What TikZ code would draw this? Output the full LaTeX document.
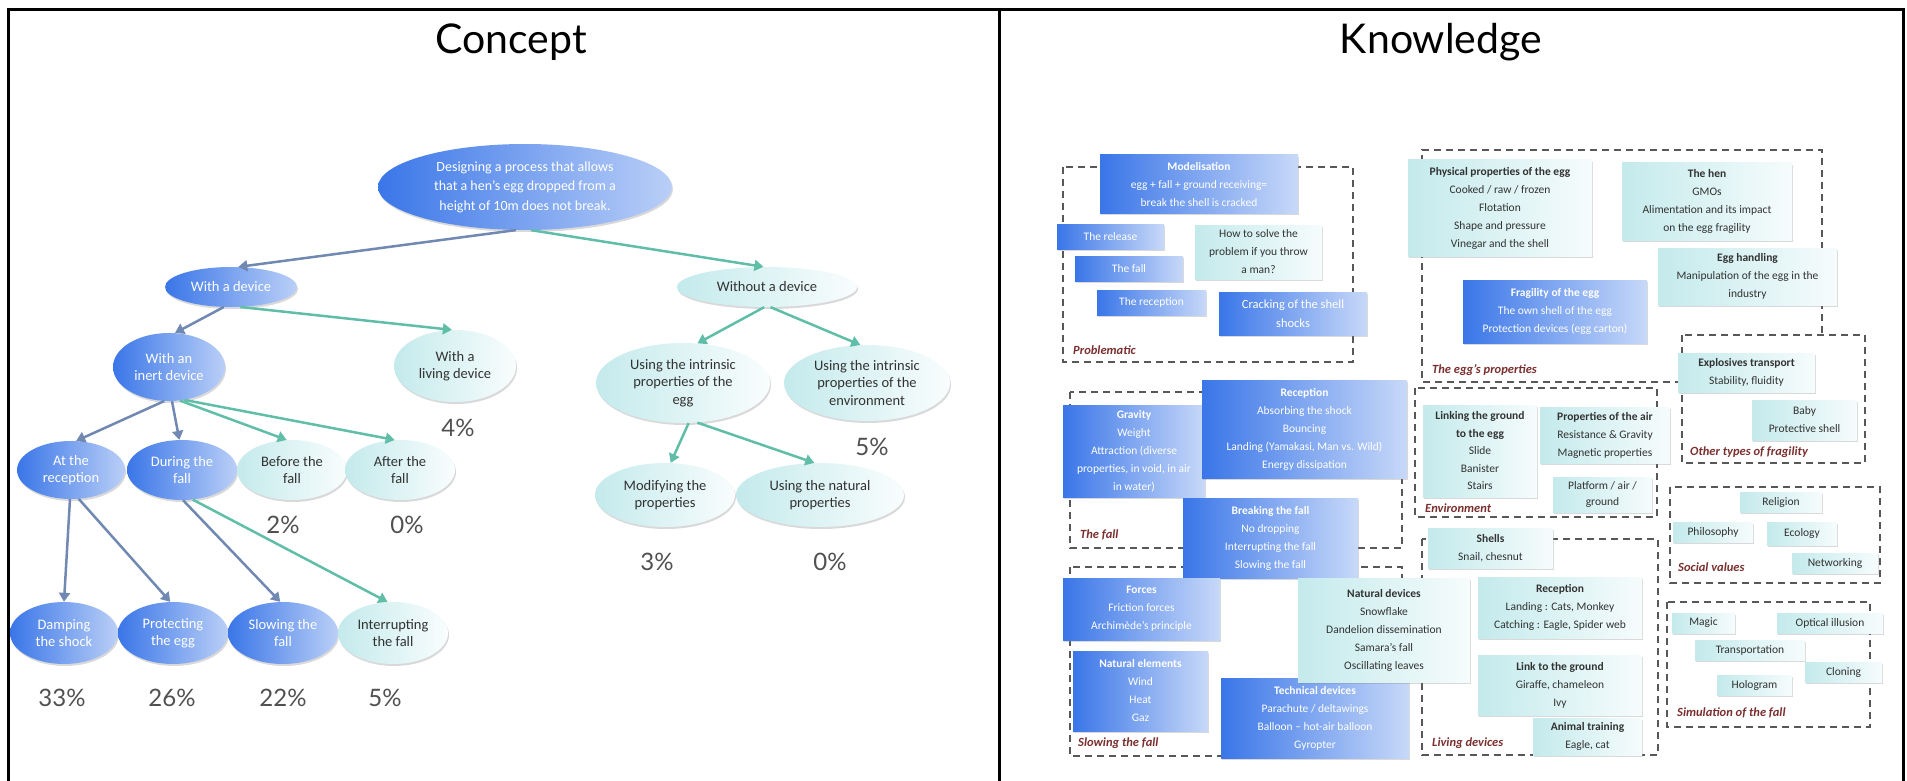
\documentclass[tikz,border=0pt]{standalone}
\usepackage{fontspec}
\setmainfont{Carlito}
\newfontfamily\titlefont{Lato}
\usetikzlibrary{shapes.geometric,arrows.meta,shadows}

\definecolor{nodeblue}{RGB}{58,118,232}
\definecolor{nodecyan}{RGB}{196,234,236}
\definecolor{edgeblue}{RGB}{112,136,178}
\definecolor{edgeteal}{RGB}{96,190,168}
\definecolor{labelred}{RGB}{122,46,46}
\definecolor{dashgray}{RGB}{88,88,88}
\definecolor{pctgray}{RGB}{80,80,80}
\definecolor{darktext}{RGB}{50,50,50}

\begin{document}
\begin{tikzpicture}[x=1pt,y=-1pt,
	sz/.style 2 args={minimum width=#1,minimum height=#2},
	softshadow/.style={drop shadow={shadow xshift=1pt,shadow yshift=-2pt,opacity=.3}},
	bluebox/.style={rectangle,inner sep=0pt,left color=nodeblue,right color=nodeblue!28!white,text=white,align=center,font=\fontsize{11.5}{18}\selectfont,softshadow},
	cyanbox/.style={rectangle,inner sep=0pt,left color=nodecyan,right color=nodecyan!15!white,text=darktext,align=center,font=\fontsize{11.5}{18}\selectfont,softshadow},
	blueoval/.style={ellipse,inner sep=0pt,left color=nodeblue,right color=nodeblue!35!white,text=white,align=center,font=\fontsize{14.5}{17.5}\selectfont,softshadow},
	cyanoval/.style={ellipse,inner sep=0pt,left color=nodecyan,right color=nodecyan!10!white,text=darktext,align=center,font=\fontsize{14.5}{17.5}\selectfont,softshadow},
	group/.style={draw=dashgray,line width=2.2pt,dash pattern=on 7pt off 5pt},
	grouplabel/.style={anchor=west,inner sep=0pt,text=labelred,font=\fontsize{12.5}{14}\selectfont\bfseries\itshape},
	pct/.style={inner sep=0pt,text=pctgray,font=\titlefont\fontsize{24}{26}\selectfont},
	titletext/.style={inner sep=0pt,font=\titlefont\fontsize{41}{44}\selectfont},
	toblue/.style={draw=edgeblue,line width=2.5pt,-{Triangle[length=9pt,width=11pt]}},
	toteal/.style={draw=edgeteal,line width=2.5pt,-{Triangle[length=9pt,width=11pt]}}]
	\useasboundingbox (0,0) rectangle (1907,781);

	% frame and titles
	\draw[line width=3pt] (8,781) -- (8,10) -- (1903,10) -- (1903,781);
	\draw[line width=3pt] (999,10) -- (999,781);
	\path (511,42)  node[titletext] (concepttitle) {Concept};
	\path (1441,42) node[titletext] (knowtitle)    {Knowledge};

	% concept tree
	\path (525,187) node[blueoval,sz={294}{86},font=\fontsize{14}{19.5}\selectfont] (root) {Designing a process that allows\\that a hen's egg dropped from a\\height of 10m does not break.};
	\path (231,287) node[blueoval,sz={132}{40}]  (wad)       {With a device};
	\path (767,287) node[cyanoval,sz={180}{40}]  (without)   {Without a device};
	\path (169,367) node[blueoval,sz={112}{68}]  (inert)     {With an\\inert device};
	\path (455,366) node[cyanoval,sz={122}{72}]  (living)    {With a\\living device};
	\path (683,383) node[cyanoval,sz={174}{80}]  (intregg)   {Using the intrinsic\\properties of the\\egg};
	\path (867,383) node[cyanoval,sz={166}{76}]  (intrenv)   {Using the intrinsic\\properties of the\\environment};
	\path (665,495) node[cyanoval,sz={140}{64}]  (modif)     {Modifying the\\properties};
	\path (820,495) node[cyanoval,sz={168}{64}]  (natprop)   {Using the natural\\properties};
	\path (71,470)  node[blueoval,sz={108}{58}]  (atrec)     {At the\\reception};
	\path (182,470) node[blueoval,sz={110}{60}]  (during)    {During the\\fall};
	\path (292,470) node[cyanoval,sz={110}{60}]  (before)    {Before the\\fall};
	\path (400,470) node[cyanoval,sz={110}{60}]  (after)     {After the\\fall};
	\path (64,633)  node[blueoval,sz={108}{62}]  (damping)   {Damping\\the shock};
	\path (173,633) node[blueoval,sz={110}{62}]  (protect)   {Protecting\\the egg};
	\path (283,633) node[blueoval,sz={110}{62}]  (slowing)   {Slowing the\\fall};
	\path (393,633) node[cyanoval,sz={110}{62}]  (interrupt) {Interrupting\\the fall};

	\draw[toblue]  (root.258)    -- (wad.70);
	\draw[toteal]  (root.278)    -- (without.100);
	\draw[toblue]  (wad.250)     -- (inert.80);
	\draw[toteal]  (wad.295)     -- (living.95);
	\draw[toblue]  (inert.262)   -- (atrec.80);
	\draw[toblue]  (inert.275)   -- (during.95);
	\draw[toteal]  (inert.288)   -- (before.100);
	\draw[toteal]  (inert.295)   -- (after.100);
	\draw[toblue]  (atrec.268)   -- (damping.90);
	\draw[toblue]  (atrec.285)   -- (protect.95);
	\draw[toblue]  (during.272)  -- (slowing.95);
	\draw[toteal]  (during.290)  -- (interrupt.100);
	\draw[toteal]  (without.262) -- (intregg.70);
	\draw[toteal]  (without.280) -- (intrenv.100);
	\draw[toteal]  (intregg.278) -- (modif.80);
	\draw[toteal]  (intregg.290) -- (natprop.100);

	\path (458,428) node[pct] (p4)  {4\%};
	\path (872,447) node[pct] (p5)  {5\%};
	\path (657,562) node[pct] (p3)  {3\%};
	\path (830,562) node[pct] (p0a) {0\%};
	\path (283,525) node[pct] (p2)  {2\%};
	\path (407,525) node[pct] (p0b) {0\%};
	\path (62,698)  node[pct] (p33) {33\%};
	\path (172,698) node[pct] (p26) {26\%};
	\path (283,698) node[pct] (p22) {22\%};
	\path (385,698) node[pct] (p5b) {5\%};

	% knowledge groups
	\draw[group] (1063,167) rectangle (1353,362);
	\draw[group] (1682,382) -- (1422,382) -- (1422,150) -- (1822,150) -- (1822,335);
	\draw[group] (1682,335) rectangle (1865,463);
	\draw[group] (1070,392) rectangle (1402,548);
	\draw[group] (1415,388) rectangle (1657,517);
	\draw[group] (1070,567) rectangle (1402,756);
	\draw[group] (1422,539) rectangle (1658,755);
	\draw[group] (1670,487) rectangle (1880,583);
	\draw[group] (1667,602) rectangle (1870,727);

	\path (1073,350) node[grouplabel] (lproblem) {Problematic};
	\path (1432,370) node[grouplabel] (legg)     {The egg's properties};
	\path (1690,452) node[grouplabel] (lother)   {Other types of fragility};
	\path (1080,535) node[grouplabel] (lfall)    {The fall};
	\path (1425,508) node[grouplabel] (lenv)     {Environment};
	\path (1078,743) node[grouplabel] (lslow)    {Slowing the fall};
	\path (1432,743) node[grouplabel] (lliving)  {Living devices};
	\path (1678,567) node[grouplabel] (lsocial)  {Social values};
	\path (1677,713) node[grouplabel] (lsimul)   {Simulation of the fall};

	% knowledge boxes
	\path (1199,184)    node[bluebox,sz={198}{58}] (modelis)      {\textbf{Modelisation}\\egg + fall + ground receiving=\\break the shell is cracked};
	\path (1110.5,236.5) node[bluebox,sz={107}{25}] (release)     {The release};
	\path (1129,268.5)  node[bluebox,sz={108}{25}] (thefall)      {The fall};
	\path (1151.5,302.5) node[bluebox,sz={109}{25}] (thereception) {The reception};
	\path (1258.5,252)  node[cyanbox,sz={127}{54}] (howto)        {How to solve the\\problem if you throw\\a man?};
	\path (1293,313.5)  node[bluebox,sz={148}{43},font=\fontsize{12.5}{19}\selectfont] (cracking) {Cracking of the shell\\shocks};

	\path (1500,208)    node[cyanbox,sz={184}{96}] (physical)   {\textbf{Physical properties of the egg}\\Cooked / raw / frozen\\Flotation\\Shape and pressure\\Vinegar and the shell};
	\path (1707,201.5)  node[cyanbox,sz={170}{77}] (hen)        {\textbf{The hen}\\GMOs\\Alimentation and its impact\\on the egg fragility};
	\path (1747.5,276.5) node[cyanbox,sz={179}{57}] (handling)  {\textbf{Egg handling}\\Manipulation of the egg in the\\industry};
	\path (1555,311.5)  node[bluebox,sz={184}{63}] (fragility)  {\textbf{Fragility of the egg}\\The own shell of the egg\\Protection devices (egg carton)};
	\path (1746.5,372.5) node[cyanbox,sz={137}{39}] (explosives) {\textbf{Explosives transport}\\Stability, fluidity};
	\path (1804.5,420)  node[cyanbox,sz={105}{40}] (baby)       {Baby\\Protective shell};

	\path (1134,451)    node[bluebox,sz={142}{92}] (gravity)    {\textbf{Gravity}\\Weight\\Attraction (diverse\\properties, in void, in air\\in water)};
	\path (1304.5,429)  node[bluebox,sz={205}{98}] (recepblue)  {\textbf{Reception}\\Absorbing the shock\\Bouncing\\Landing (Yamakasi, Man vs. Wild)\\Energy dissipation};
	\path (1270.5,538)  node[bluebox,sz={175}{80}] (breaking)   {\textbf{Breaking the fall}\\No dropping\\Interrupting the fall\\Slowing the fall};

	\path (1480,451)    node[cyanbox,sz={114}{92},font=\fontsize{11.5}{17.5}\selectfont] (linking) {\textbf{Linking the ground}\\\textbf{to the egg}\\Slide\\Banister\\Stairs};
	\path (1605,435)    node[cyanbox,sz={130}{56}] (airprops)   {\textbf{Properties of the air}\\Resistance \& Gravity\\Magnetic properties};
	\path (1602.5,494.5) node[cyanbox,sz={99}{35},font=\fontsize{11.5}{16}\selectfont] (platform) {Platform / air /\\ground};

	\path (1141.5,609)  node[bluebox,sz={157}{62}] (forces)     {\textbf{Forces}\\Friction forces\\Archimède's principle};
	\path (1140.5,691)  node[bluebox,sz={135}{80}] (natelem)    {\textbf{Natural elements}\\Wind\\Heat\\Gaz};
	\path (1315,718)    node[bluebox,sz={188}{80}] (technical)  {\textbf{Technical devices}\\Parachute / deltawings\\Balloon -- hot-air balloon\\Gyropter};
	\path (1384,630)    node[cyanbox,sz={172}{104}] (natdev)    {\textbf{Natural devices}\\Snowflake\\Dandelion dissemination\\Samara's fall\\Oscillating leaves};

	\path (1490.5,548)  node[cyanbox,sz={125}{40}] (shells)     {\textbf{Shells}\\Snail, chesnut};
	\path (1560,607.5)  node[cyanbox,sz={164}{61}] (reclive)    {\textbf{Reception}\\Landing : Cats, Monkey\\Catching : Eagle, Spider web};
	\path (1560,685)    node[cyanbox,sz={164}{60}] (linkground) {\textbf{Link to the ground}\\Giraffe, chameleon\\Ivy};
	\path (1587.5,736.5) node[cyanbox,sz={109}{37}] (animal)    {\textbf{Animal training}\\Eagle, cat};

	\path (1781,502)    node[cyanbox,sz={82}{20}]  (religion)   {Religion};
	\path (1713,532)    node[cyanbox,sz={80}{20}]  (philosophy) {Philosophy};
	\path (1802,533.5)  node[cyanbox,sz={70}{23}]  (ecology)    {Ecology};
	\path (1835,563)    node[cyanbox,sz={86}{20}]  (networking) {Networking};

	\path (1703.5,623)  node[cyanbox,sz={63}{20}]  (magic)      {Magic};
	\path (1830,623)    node[cyanbox,sz={106}{20}] (optical)    {Optical illusion};
	\path (1750,650)    node[cyanbox,sz={110}{20}] (transport)  {Transportation};
	\path (1843.5,672)  node[cyanbox,sz={77}{20}]  (cloning)    {Cloning};
	\path (1754.5,685)  node[cyanbox,sz={75}{20}]  (hologram)   {Hologram};
\end{tikzpicture}
\end{document}
